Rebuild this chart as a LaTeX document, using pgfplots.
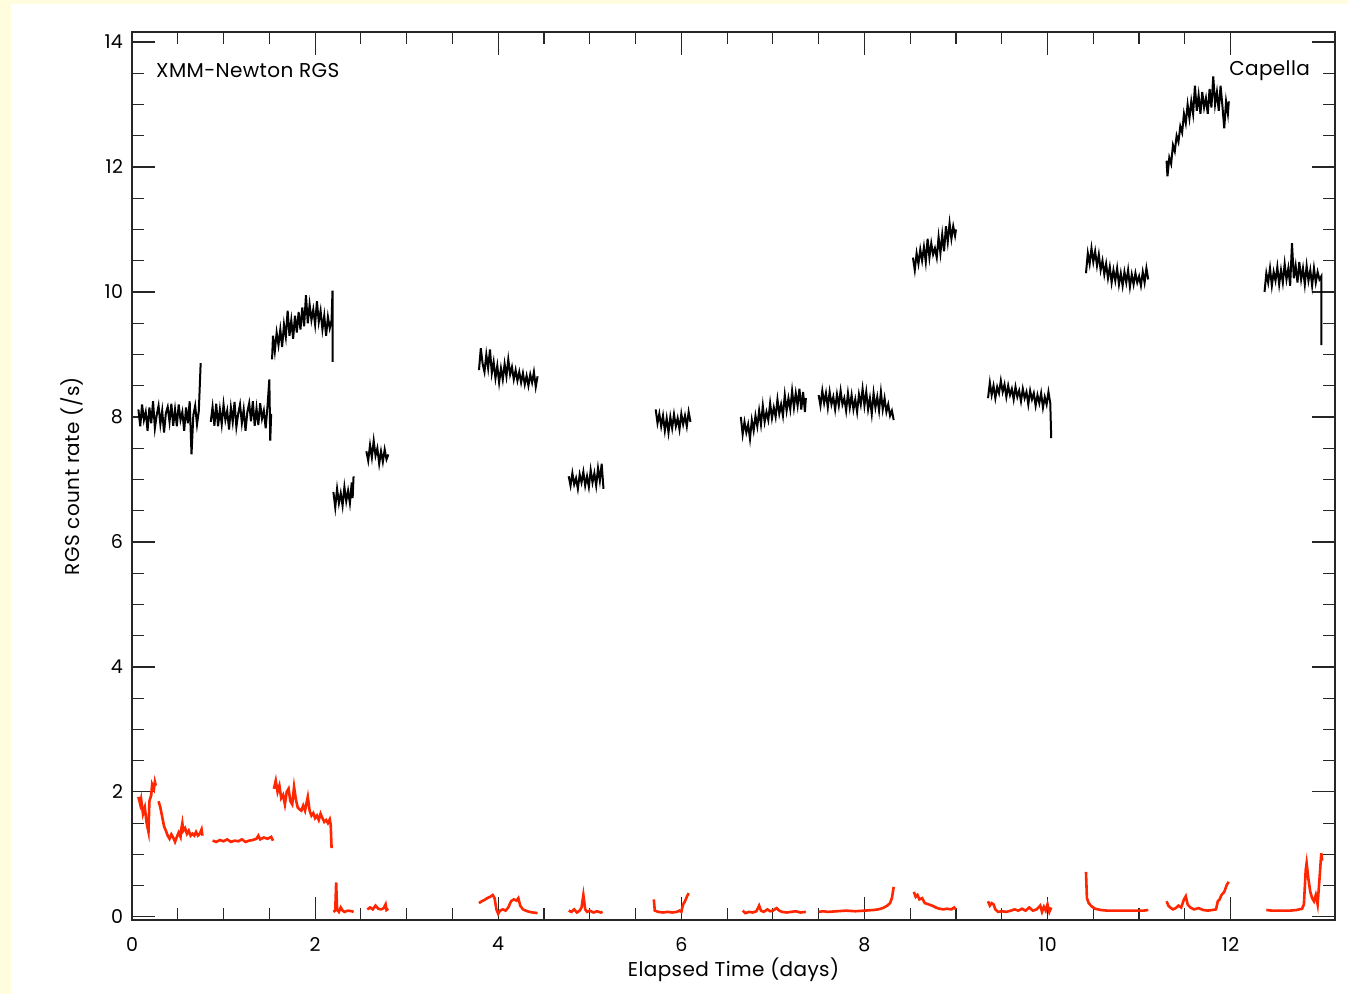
\documentclass[border=0pt]{standalone}
\usepackage{fontspec}
\setmainfont{Poppins}[LetterSpace=2]
\usepackage{pgfplots}
\pgfplotsset{compat=1.18}
\definecolor{bgyellow}{RGB}{255,253,222}
\definecolor{redline}{RGB}{255,38,0}
\begin{document}
\fontsize{10}{12}\selectfont
\begin{tikzpicture}
\fill[bgyellow] (-66pt,-37pt) rectangle (608pt,460pt);
\fill[white] (-60.5pt,-37pt) rectangle (608pt,458pt);
\begin{axis}[
  at={(0,0)}, anchor=south west,
  scale only axis, width=601.5pt, height=444pt,
  xmin=0, xmax=13.14, ymin=-0.05, ymax=14.16,
  xtick={0,2,...,12}, ytick={0,2,...,14},
  minor x tick num=3, minor y tick num=3,
  tick align=inside,
  major tick length=11.5pt, minor tick length=5.8pt,
  axis line style={black!85, line width=0.8pt},
  every tick/.style={black!85, line width=0.6pt},
  /pgf/number format/assume math mode=true,
  tick label style={font=\fontsize{9.5}{11}\selectfont},
  xticklabel style={yshift=-5pt},
  yticklabel style={xshift=-1pt},
  xlabel={Elapsed Time (days)},
  ylabel={RGS count rate (/s)},
  xlabel style={at={(axis description cs:0.5,-0.0563)}, anchor=center},
  ylabel style={at={(axis description cs:-0.0499,0.5)}, anchor=center},
  blk/.style={black, line width=1pt},
  rd/.style={color=redline, line width=1.3pt},
]
% ---- black: RGS count rate
\addplot[blk] coordinates {(0.07,8.12)(0.09,7.85)(0.11,8.20)(0.13,7.95)(0.15,8.08)(0.17,7.78)(0.19,8.15)(0.21,7.90)(0.23,8.25)(0.25,7.82)(0.27,8.03)(0.29,8.18)(0.31,7.88)(0.33,8.10)(0.35,7.75)(0.37,8.06)(0.39,8.16)(0.41,7.92)(0.43,8.21)(0.45,7.86)(0.47,8.12)(0.49,7.85)(0.51,8.20)(0.53,7.95)(0.55,8.08)(0.57,7.78)(0.59,8.15)(0.61,7.90)(0.63,8.25)(0.65,7.40)(0.67,8.03)(0.69,8.18)(0.71,7.88)(0.73,8.10)(0.75,8.86)};
\addplot[blk] coordinates {(0.86,7.92)(0.88,8.16)(0.90,7.86)(0.92,8.21)(0.94,7.85)(0.96,8.12)(0.98,7.88)(1.00,8.20)(1.02,7.95)(1.04,8.10)(1.06,7.80)(1.08,8.15)(1.10,7.92)(1.12,8.24)(1.14,7.84)(1.16,8.05)(1.18,8.20)(1.20,7.90)(1.22,8.12)(1.24,7.78)(1.26,8.08)(1.28,8.22)(1.30,7.93)(1.32,8.25)(1.34,7.86)(1.36,8.14)(1.38,7.87)(1.40,8.22)(1.42,7.97)(1.44,8.10)(1.46,7.82)(1.48,8.17)(1.50,8.60)(1.51,7.62)(1.52,8.05)};
\addplot[blk] coordinates {(1.53,8.92)(1.54,9.30)(1.56,9.05)(1.58,9.35)(1.60,9.15)(1.62,9.40)(1.64,9.12)(1.66,9.48)(1.68,9.28)(1.70,9.70)(1.72,9.30)(1.74,9.55)(1.76,9.25)(1.78,9.62)(1.80,9.35)(1.82,9.68)(1.84,9.40)(1.86,9.75)(1.88,9.45)(1.90,9.95)(1.92,9.50)(1.94,9.80)(1.96,9.55)(1.98,9.72)(2.00,9.48)(2.02,9.85)(2.04,9.52)(2.06,9.70)(2.08,9.40)(2.10,9.62)(2.12,9.30)(2.14,9.60)(2.16,9.42)(2.18,9.55)(2.19,10.02)(2.19,8.88)};
\addplot[blk] coordinates {(2.20,6.80)(2.22,6.55)(2.24,6.85)(2.26,6.62)(2.28,6.78)(2.30,6.58)(2.32,6.88)(2.34,6.65)(2.36,6.82)(2.38,6.62)(2.40,6.95)(2.41,6.70)(2.42,7.05)};
\addplot[blk] coordinates {(2.56,7.45)(2.58,7.30)(2.60,7.55)(2.62,7.35)(2.64,7.62)(2.66,7.38)(2.68,7.50)(2.70,7.25)(2.72,7.45)(2.74,7.28)(2.76,7.48)(2.78,7.32)(2.80,7.40)};
\addplot[blk] coordinates {(3.79,8.75)(3.81,9.10)(3.83,8.85)(3.85,8.72)(3.87,9.00)(3.89,8.78)(3.91,9.08)(3.93,8.70)(3.95,8.88)(3.97,8.62)(3.99,8.82)(4.01,8.55)(4.03,8.78)(4.05,8.60)(4.07,8.85)(4.09,8.65)(4.11,8.92)(4.13,8.68)(4.15,8.80)(4.17,8.60)(4.19,8.75)(4.21,8.58)(4.23,8.72)(4.25,8.55)(4.27,8.70)(4.29,8.52)(4.31,8.66)(4.33,8.50)(4.35,8.68)(4.37,8.55)(4.39,8.72)(4.41,8.48)(4.43,8.65)};
\addplot[blk] coordinates {(4.77,7.05)(4.79,6.90)(4.81,7.10)(4.83,6.92)(4.85,7.02)(4.87,6.85)(4.89,7.08)(4.91,6.95)(4.93,7.12)(4.95,6.90)(4.97,7.05)(4.99,6.88)(5.01,7.15)(5.03,6.95)(5.05,7.10)(5.07,6.90)(5.09,7.18)(5.11,6.98)(5.13,7.25)(5.15,6.85)};
\addplot[blk] coordinates {(5.72,8.12)(5.74,7.90)(5.76,8.05)(5.78,7.85)(5.80,8.02)(5.82,7.78)(5.84,7.98)(5.86,7.75)(5.88,8.00)(5.90,7.82)(5.92,8.04)(5.94,7.85)(5.96,7.98)(5.98,7.80)(6.00,8.05)(6.02,7.88)(6.04,8.02)(6.06,7.85)(6.08,8.08)(6.10,7.92)};
\addplot[blk] coordinates {(6.65,8.00)(6.67,7.72)(6.69,7.92)(6.71,7.75)(6.73,7.88)(6.75,7.65)(6.77,7.95)(6.79,7.78)(6.81,8.02)(6.83,7.85)(6.85,8.10)(6.87,7.88)(6.89,8.18)(6.91,7.92)(6.93,8.08)(6.95,7.95)(6.97,8.22)(6.99,7.98)(7.01,8.15)(7.03,8.00)(7.05,8.28)(7.07,8.05)(7.09,8.20)(7.11,8.02)(7.13,8.35)(7.15,8.10)(7.17,8.30)(7.19,8.12)(7.21,8.42)(7.23,8.15)(7.25,8.38)(7.27,8.18)(7.29,8.45)(7.31,8.12)(7.33,8.40)(7.35,8.08)(7.36,8.30)};
\addplot[blk] coordinates {(7.50,8.35)(7.52,8.18)(7.54,8.42)(7.56,8.22)(7.58,8.38)(7.60,8.15)(7.62,8.40)(7.64,8.20)(7.66,8.32)(7.68,8.12)(7.70,8.36)(7.72,8.18)(7.74,8.42)(7.76,8.20)(7.78,8.30)(7.80,8.10)(7.82,8.38)(7.84,8.15)(7.86,8.35)(7.88,8.12)(7.90,8.28)(7.92,8.08)(7.94,8.36)(7.96,8.20)(7.98,8.45)(8.00,8.18)(8.02,8.40)(8.04,8.12)(8.06,8.30)(8.08,8.05)(8.10,8.38)(8.12,8.15)(8.14,8.32)(8.16,8.10)(8.18,8.40)(8.20,8.12)(8.22,8.30)(8.24,8.08)(8.26,8.20)(8.28,8.02)(8.30,8.10)(8.32,7.95)};
\addplot[blk] coordinates {(8.53,10.55)(8.55,10.35)(8.57,10.62)(8.59,10.45)(8.61,10.68)(8.63,10.50)(8.65,10.72)(8.67,10.48)(8.69,10.85)(8.71,10.55)(8.73,10.78)(8.75,10.60)(8.77,10.70)(8.79,10.55)(8.81,10.88)(8.83,10.62)(8.85,10.92)(8.87,10.65)(8.89,11.05)(8.91,10.80)(8.93,11.10)(8.95,10.85)(8.97,11.05)(8.99,10.90)(9.00,11.00)};
\addplot[blk] coordinates {(9.35,8.30)(9.37,8.55)(9.39,8.35)(9.41,8.50)(9.43,8.30)(9.45,8.48)(9.47,8.38)(9.49,8.58)(9.51,8.40)(9.53,8.52)(9.55,8.32)(9.57,8.50)(9.59,8.35)(9.61,8.45)(9.63,8.28)(9.65,8.48)(9.67,8.32)(9.69,8.42)(9.71,8.25)(9.73,8.45)(9.75,8.30)(9.77,8.40)(9.79,8.20)(9.81,8.42)(9.83,8.28)(9.85,8.38)(9.87,8.18)(9.89,8.35)(9.91,8.22)(9.93,8.38)(9.95,8.15)(9.97,8.32)(9.99,8.20)(10.01,8.40)(10.03,8.22)(10.04,7.66)};
\addplot[blk] coordinates {(10.42,10.30)(10.44,10.62)(10.46,10.45)(10.48,10.70)(10.50,10.48)(10.52,10.65)(10.54,10.42)(10.56,10.60)(10.58,10.35)(10.60,10.50)(10.62,10.28)(10.64,10.45)(10.66,10.22)(10.68,10.40)(10.70,10.15)(10.72,10.35)(10.74,10.18)(10.76,10.38)(10.78,10.12)(10.80,10.30)(10.82,10.10)(10.84,10.32)(10.86,10.15)(10.88,10.35)(10.90,10.08)(10.92,10.28)(10.94,10.12)(10.96,10.30)(10.98,10.15)(11.00,10.25)(11.02,10.10)(11.04,10.32)(11.06,10.15)(11.08,10.38)(11.10,10.20)};
\addplot[blk] coordinates {(11.30,12.10)(11.31,11.85)(11.33,12.15)(11.35,12.05)(11.37,12.35)(11.39,12.25)(11.41,12.50)(11.43,12.40)(11.45,12.65)(11.47,12.55)(11.49,12.85)(11.51,12.70)(11.53,13.00)(11.55,12.78)(11.57,13.05)(11.59,12.85)(11.61,13.30)(11.63,12.90)(11.65,13.15)(11.67,12.85)(11.69,13.20)(11.71,12.95)(11.73,13.10)(11.75,12.85)(11.77,13.25)(11.79,12.95)(11.81,13.45)(11.83,13.00)(11.85,13.20)(11.87,12.90)(11.89,13.30)(11.91,12.98)(11.93,12.62)(11.95,13.05)(11.97,12.85)(11.98,13.05)};
\addplot[blk] coordinates {(12.37,10.00)(12.39,10.30)(12.41,10.15)(12.43,10.38)(12.45,10.10)(12.47,10.32)(12.49,10.18)(12.51,10.40)(12.53,10.12)(12.55,10.35)(12.57,10.15)(12.59,10.45)(12.61,10.20)(12.63,10.38)(12.65,10.10)(12.67,10.78)(12.69,10.22)(12.71,10.42)(12.73,10.15)(12.75,10.48)(12.77,10.20)(12.79,10.38)(12.81,10.12)(12.83,10.42)(12.85,10.18)(12.87,10.35)(12.89,10.10)(12.91,10.38)(12.93,10.15)(12.95,10.32)(12.97,10.20)(12.99,10.25)(12.99,9.15)};
% ---- red: background rate
\addplot[rd] coordinates {(0.07,1.92)(0.09,1.80)(0.10,1.88)(0.12,1.65)(0.14,1.75)(0.16,1.50)(0.18,1.36)(0.19,1.85)(0.21,1.95)(0.22,2.12)(0.24,2.05)(0.25,2.16)(0.26,2.10)};
\addplot[rd] coordinates {(0.29,1.85)(0.31,1.75)(0.33,1.60)(0.35,1.45)(0.37,1.38)(0.39,1.30)(0.41,1.25)(0.43,1.32)(0.45,1.27)(0.47,1.20)(0.49,1.28)(0.51,1.35)(0.53,1.28)(0.54,1.42)(0.55,1.50)(0.56,1.38)(0.58,1.42)(0.60,1.33)(0.62,1.38)(0.64,1.30)(0.66,1.33)(0.68,1.30)(0.70,1.36)(0.72,1.30)(0.74,1.33)(0.76,1.40)(0.77,1.30)};
\addplot[rd] coordinates {(0.88,1.22)(0.92,1.20)(0.96,1.23)(1.00,1.21)(1.04,1.24)(1.08,1.20)(1.12,1.22)(1.16,1.21)(1.20,1.24)(1.24,1.20)(1.28,1.22)(1.32,1.23)(1.36,1.25)(1.38,1.30)(1.40,1.24)(1.44,1.27)(1.48,1.25)(1.52,1.28)(1.54,1.22)};
\addplot[rd] coordinates {(1.55,2.05)(1.57,2.18)(1.59,2.00)(1.61,2.10)(1.63,1.90)(1.65,1.95)(1.67,1.80)(1.69,2.00)(1.71,2.05)(1.73,1.85)(1.75,1.80)(1.77,2.08)(1.79,1.88)(1.81,1.75)(1.83,1.72)(1.85,1.70)(1.87,1.78)(1.89,1.70)(1.91,1.85)(1.92,1.92)(1.94,1.70)(1.96,1.62)(1.98,1.66)(2.00,1.58)(2.02,1.62)(2.04,1.55)(2.06,1.65)(2.08,1.58)(2.10,1.52)(2.12,1.55)(2.14,1.50)(2.16,1.56)(2.17,1.48)(2.18,1.10)};
\addplot[rd] coordinates {(2.20,0.08)(2.22,0.10)(2.23,0.55)(2.24,0.12)(2.26,0.08)(2.28,0.15)(2.30,0.10)(2.32,0.08)(2.36,0.10)(2.40,0.09)(2.42,0.08)};
\addplot[rd] coordinates {(2.57,0.12)(2.60,0.15)(2.63,0.12)(2.66,0.18)(2.69,0.13)(2.72,0.12)(2.75,0.14)(2.77,0.20)(2.78,0.11)(2.80,0.13)};
\addplot[rd] coordinates {(3.79,0.22)(3.82,0.25)(3.85,0.27)(3.88,0.30)(3.91,0.32)(3.94,0.35)(3.96,0.30)(3.98,0.12)(4.00,0.05)(4.02,0.10)(4.05,0.12)(4.08,0.10)(4.11,0.15)(4.14,0.25)(4.17,0.28)(4.20,0.26)(4.22,0.30)(4.24,0.18)(4.27,0.12)(4.30,0.10)(4.34,0.08)(4.38,0.07)(4.43,0.06)};
\addplot[rd] coordinates {(4.77,0.10)(4.80,0.08)(4.83,0.12)(4.86,0.07)(4.89,0.10)(4.91,0.15)(4.93,0.35)(4.95,0.12)(4.97,0.08)(5.00,0.10)(5.04,0.07)(5.08,0.09)(5.12,0.07)(5.14,0.08)};
\addplot[rd] coordinates {(5.70,0.28)(5.71,0.10)(5.75,0.08)(5.80,0.07)(5.85,0.08)(5.90,0.07)(5.95,0.08)(5.98,0.10)(6.00,0.08)(6.02,0.20)(6.04,0.25)(6.06,0.32)(6.08,0.38)};
\addplot[rd] coordinates {(6.67,0.10)(6.70,0.06)(6.74,0.08)(6.78,0.07)(6.82,0.09)(6.85,0.18)(6.87,0.10)(6.90,0.08)(6.94,0.12)(6.97,0.09)(7.00,0.10)(7.04,0.14)(7.07,0.10)(7.10,0.08)(7.15,0.07)(7.20,0.08)(7.25,0.09)(7.30,0.07)(7.36,0.08)};
\addplot[rd] coordinates {(7.50,0.08)(7.55,0.09)(7.60,0.08)(7.70,0.09)(7.80,0.10)(7.90,0.09)(8.00,0.10)(8.10,0.11)(8.15,0.12)(8.20,0.14)(8.25,0.18)(8.28,0.22)(8.30,0.30)(8.32,0.48)};
\addplot[rd] coordinates {(8.54,0.40)(8.56,0.32)(8.58,0.35)(8.60,0.28)(8.63,0.30)(8.66,0.22)(8.70,0.20)(8.74,0.18)(8.78,0.15)(8.82,0.13)(8.86,0.12)(8.90,0.13)(8.95,0.12)(8.98,0.15)(9.00,0.12)};
\addplot[rd] coordinates {(9.35,0.25)(9.37,0.18)(9.39,0.22)(9.41,0.20)(9.43,0.12)(9.46,0.08)(9.50,0.09)(9.55,0.08)(9.60,0.10)(9.64,0.12)(9.68,0.10)(9.72,0.13)(9.76,0.10)(9.80,0.15)(9.84,0.10)(9.88,0.12)(9.92,0.18)(9.94,0.08)(9.96,0.16)(9.98,0.10)(10.00,0.20)(10.02,0.08)(10.04,0.15)};
\addplot[rd] coordinates {(10.42,0.72)(10.43,0.30)(10.45,0.22)(10.48,0.17)(10.52,0.13)(10.58,0.11)(10.65,0.10)(10.75,0.10)(10.85,0.10)(10.95,0.10)(11.05,0.10)(11.10,0.11)};
\addplot[rd] coordinates {(11.30,0.25)(11.32,0.18)(11.34,0.15)(11.37,0.12)(11.40,0.14)(11.43,0.18)(11.46,0.15)(11.49,0.28)(11.51,0.33)(11.53,0.20)(11.56,0.15)(11.60,0.12)(11.65,0.14)(11.70,0.11)(11.75,0.10)(11.80,0.11)(11.84,0.12)(11.86,0.25)(11.88,0.28)(11.90,0.35)(11.93,0.40)(11.96,0.52)(11.98,0.56)};
\addplot[rd] coordinates {(12.39,0.11)(12.45,0.10)(12.55,0.10)(12.65,0.10)(12.72,0.11)(12.78,0.13)(12.80,0.20)(12.82,0.75)(12.83,0.86)(12.85,0.60)(12.87,0.40)(12.89,0.30)(12.91,0.25)(12.93,0.35)(12.95,0.20)(12.97,0.60)(12.99,1.02)(13.00,0.90)};
\node[anchor=west, inner sep=0pt] at (axis cs:0.26,13.54) {XMM-Newton RGS};
\node[anchor=east, inner sep=0pt] at (axis cs:12.87,13.54) {Capella};
\end{axis}
\end{tikzpicture}
\end{document}
